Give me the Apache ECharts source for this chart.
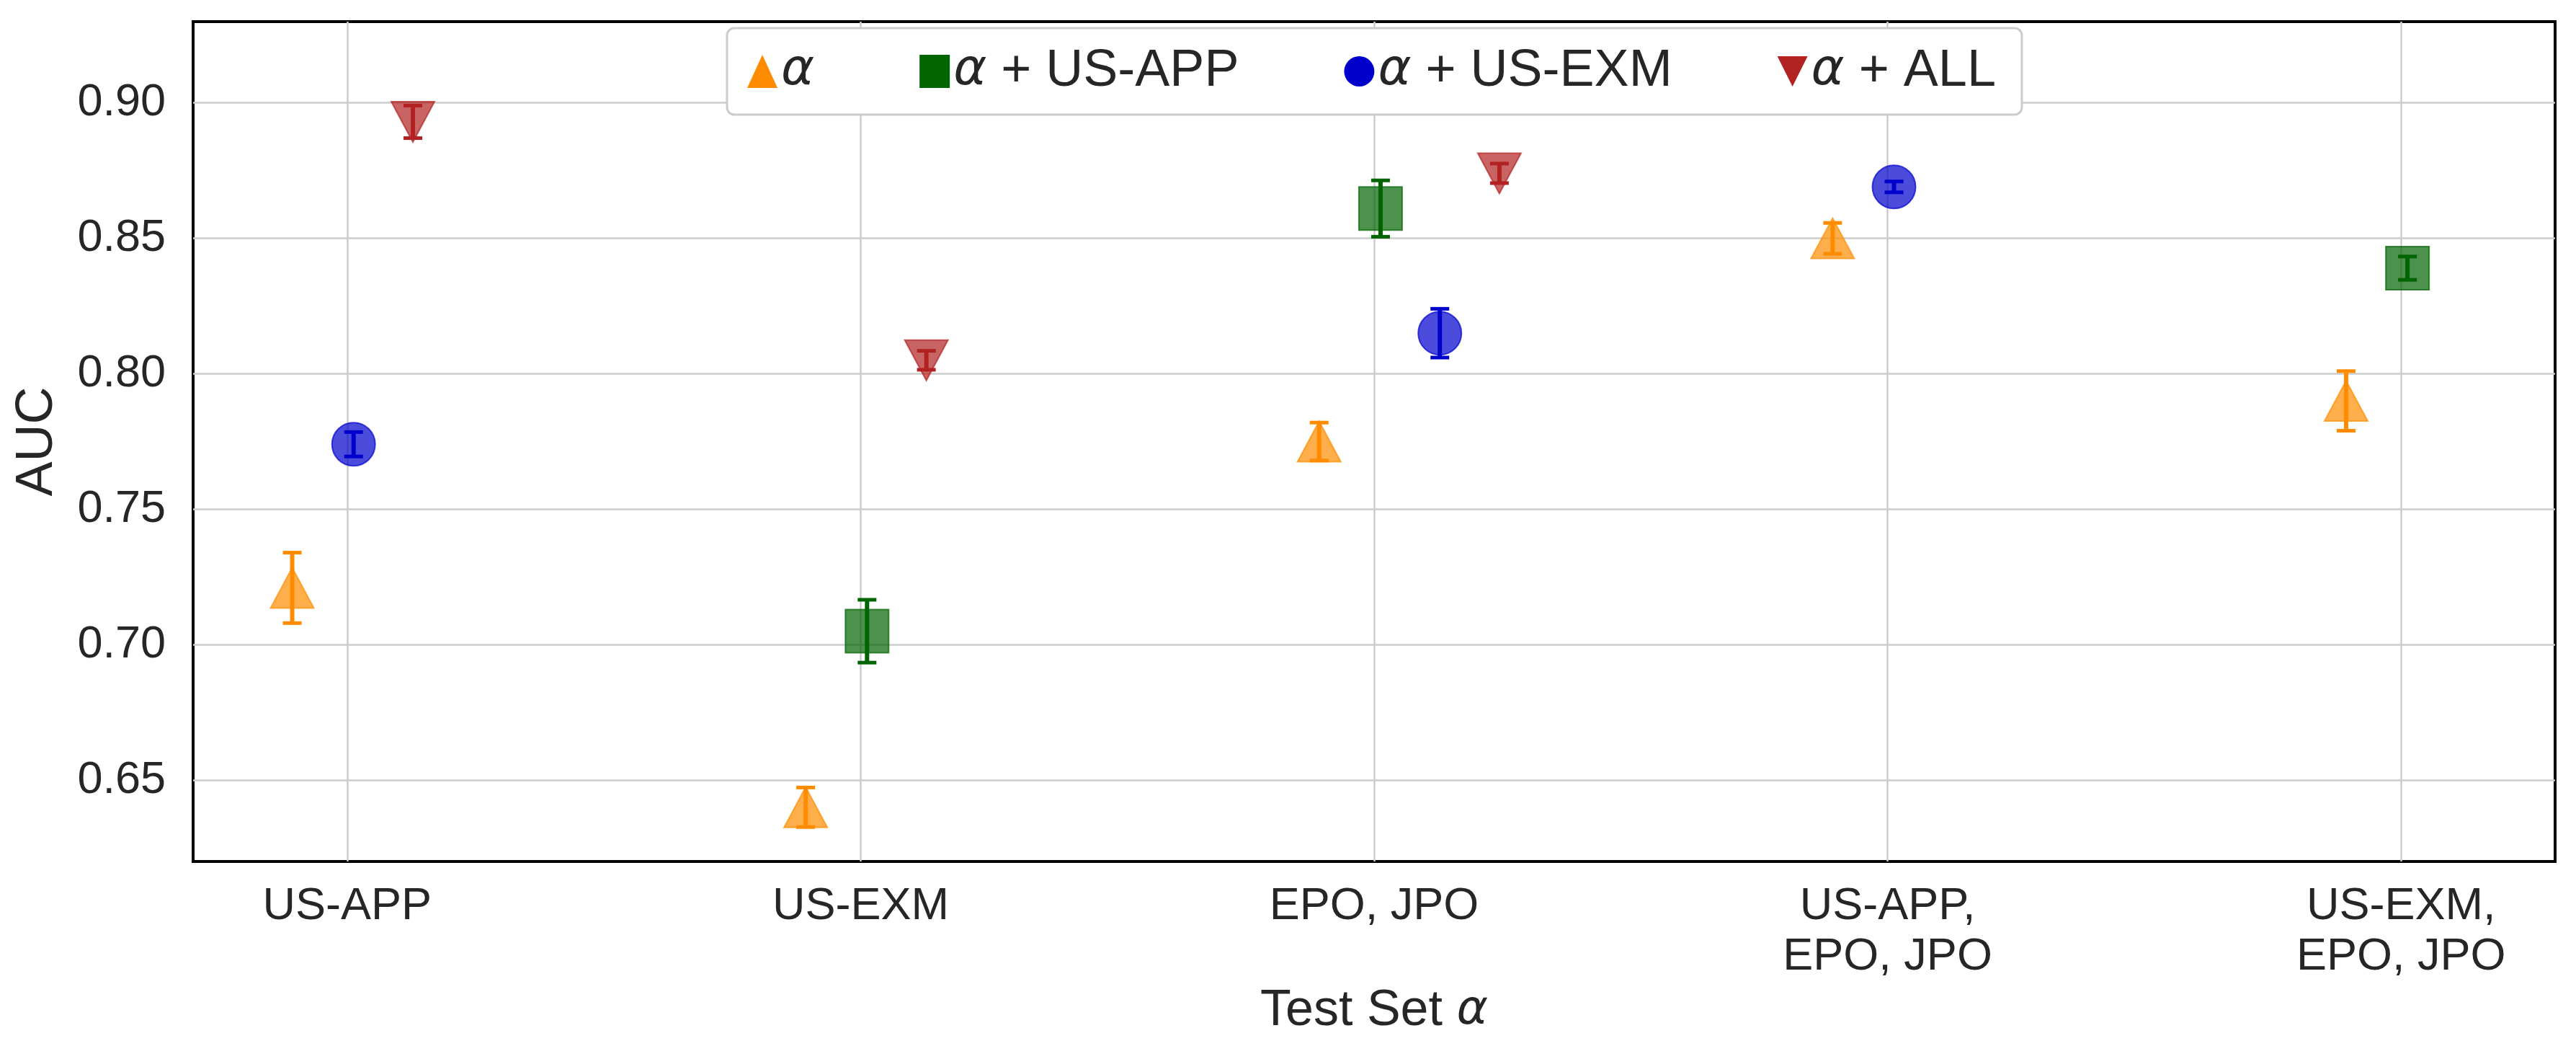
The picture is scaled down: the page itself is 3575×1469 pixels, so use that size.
<!DOCTYPE html>
<html>
<head>
<meta charset="utf-8">
<script src="https://cdn.jsdelivr.net/npm/echarts@6/dist/echarts.min.js"></script>
<style>html,body{margin:0;padding:0;background:#fff}#c{width:3575px;height:1469px}</style>
</head>
<body>
<div id="c"></div>
<script>
const categories = ['US-APP', 'US-EXM', 'EPO, JPO', 'US-APP,\nEPO, JPO', 'US-EXM,\nEPO, JPO'];
const seriesNames = ['α', 'α + US-APP', 'α + US-EXM', 'α + ALL'];
const aucAlpha = [0.721, 0.640, 0.775, 0.850, 0.790];
const errAlpha = [0.013, 0.0073, 0.007, 0.0057, 0.011];
const aucUsApp = [null, 0.705, 0.861, null, 0.839];
const errUsApp = [null, 0.0116, 0.0104, null, 0.0043];
const aucUsExm = [0.774, null, 0.815, 0.869, null];
const errUsExm = [0.0045, null, 0.009, 0.002, null];
const aucAll = [0.893, 0.805, 0.874, null, null];
const errAll = [0.006, 0.0035, 0.0036, null, null];
const yTicks = [0.65, 0.70, 0.75, 0.80, 0.85, 0.90];

const values = [aucAlpha, aucUsApp, aucUsExm, aucAll];
const errors = [errAlpha, errUsApp, errUsExm, errAll];
const colors = ['#FF8C00', '#006400', '#0000CD', '#B22222'];
const symbols = ['triangle', 'rect', 'circle', 'triangle'];
const rotations = [0, 0, 0, 180];
const sizes = [[60, 56], [60, 60], [60, 60], [60, 56]];
const slotOffsets = [-0.107, 0.0125, 0.128, 0.244];
const FONT = "'Liberation Sans', Arial, sans-serif";
const TXT = '#262626';

// slot of each present point within its category
const slotCount = categories.map(() => 0);
const seriesData = values.map(() => []);
for (let c = 0; c < categories.length; c++) {
  for (let s = 0; s < values.length; s++) {
    const v = values[s][c];
    if (v === null) continue;
    const x = c + slotOffsets[slotCount[c]++];
    seriesData[s].push([x, v, errors[s][c]]);
  }
}

const series = [];
for (let s = 0; s < values.length; s++) {
  series.push({
    name: seriesNames[s],
    type: 'scatter',
    symbol: symbols[s],
    symbolRotate: rotations[s],
    symbolSize: sizes[s],
    data: seriesData[s],
    itemStyle: { color: colors[s], opacity: 0.7, borderColor: colors[s], borderWidth: 2 },
    emphasis: { disabled: true },
    z: 2
  });
}
for (let s = 0; s < values.length; s++) {
  series.push({
    name: 'err ' + seriesNames[s],
    type: 'custom',
    data: seriesData[s],
    z: 5,
    renderItem: function (params, api) {
      const x = api.value(0), y = api.value(1), e = api.value(2);
      const top = api.coord([x, y + e]);
      const bot = api.coord([x, y - e]);
      const cap = 13;
      const st = { stroke: colors[s], lineWidth: 6 };
      const cs = { stroke: colors[s], lineWidth: 5 };
      return {
        type: 'group',
        children: [
          { type: 'line', shape: { x1: top[0], y1: top[1], x2: bot[0], y2: bot[1] }, style: st },
          { type: 'line', shape: { x1: top[0] - cap, y1: top[1], x2: top[0] + cap, y2: top[1] }, style: cs },
          { type: 'line', shape: { x1: bot[0] - cap, y1: bot[1], x2: bot[0] + cap, y2: bot[1] }, style: cs }
        ]
      };
    }
  });
}

const legendIcons = ['triangle', 'rect', 'circle', 'path://M0,0 L10,0 L5,10 Z'];

const chart = echarts.init(document.getElementById('c'), null, { renderer: 'canvas' });
chart.setOption({
  backgroundColor: '#fff',
  animation: false,
  grid: { left: 268, right: 29, top: 30, bottom: 274, show: true, borderColor: '#000', borderWidth: 4, backgroundColor: 'transparent' },
  legend: {
    left: 1009, top: 39,
    padding: [24, 36, 24, 28],
    itemGap: 146,
    itemWidth: 42, itemHeight: 46,
    backgroundColor: '#fff',
    borderColor: '#cccccc', borderWidth: 3, borderRadius: 10,
    data: seriesNames.map((n, i) => ({ name: n, icon: legendIcons[i], itemStyle: { color: colors[i], opacity: 1, borderWidth: 0 } })),
    formatter: function (name) { return name.replace('α', '{i|α}'); },
    textStyle: {
      fontFamily: FONT, fontSize: 72, color: TXT, lineHeight: 72,
      rich: { i: { fontFamily: "'DejaVu Sans', sans-serif", fontStyle: 'italic', fontSize: 70, color: TXT, lineHeight: 72 } }
    }
  },
  xAxis: {
    type: 'value', min: -0.3, max: 4.3,
    name: '{n|Test Set }{i|α}', nameLocation: 'middle', nameGap: 172,
    nameTextStyle: {
      rich: {
        n: { fontFamily: FONT, fontSize: 70, color: TXT },
        i: { fontFamily: "'DejaVu Sans', sans-serif", fontStyle: 'italic', fontSize: 66, color: TXT }
      }
    },
    axisLine: { show: false },
    axisTick: { show: false, customValues: [0, 1, 2, 3, 4] },
    axisLabel: {
      customValues: [0, 1, 2, 3, 4],
      formatter: v => categories[Math.round(v)] || '',
      fontFamily: FONT, fontSize: 63, color: TXT, lineHeight: 70, margin: 28
    },
    splitLine: { show: true, lineStyle: { color: '#cccccc', width: 2.5 } }
  },
  yAxis: {
    type: 'value', min: 0.62, max: 0.93,
    name: 'AUC', nameLocation: 'middle', nameGap: 180,
    nameTextStyle: { fontFamily: FONT, fontSize: 72, color: TXT },
    axisLine: { show: false },
    axisTick: { show: false, customValues: yTicks },
    axisLabel: {
      customValues: yTicks,
      formatter: v => v.toFixed(2),
      fontFamily: FONT, fontSize: 63, color: TXT, margin: 38
    },
    splitLine: { show: true, lineStyle: { color: '#cccccc', width: 2.5 } }
  },
  series: series
});
</script>
</body>
</html>
